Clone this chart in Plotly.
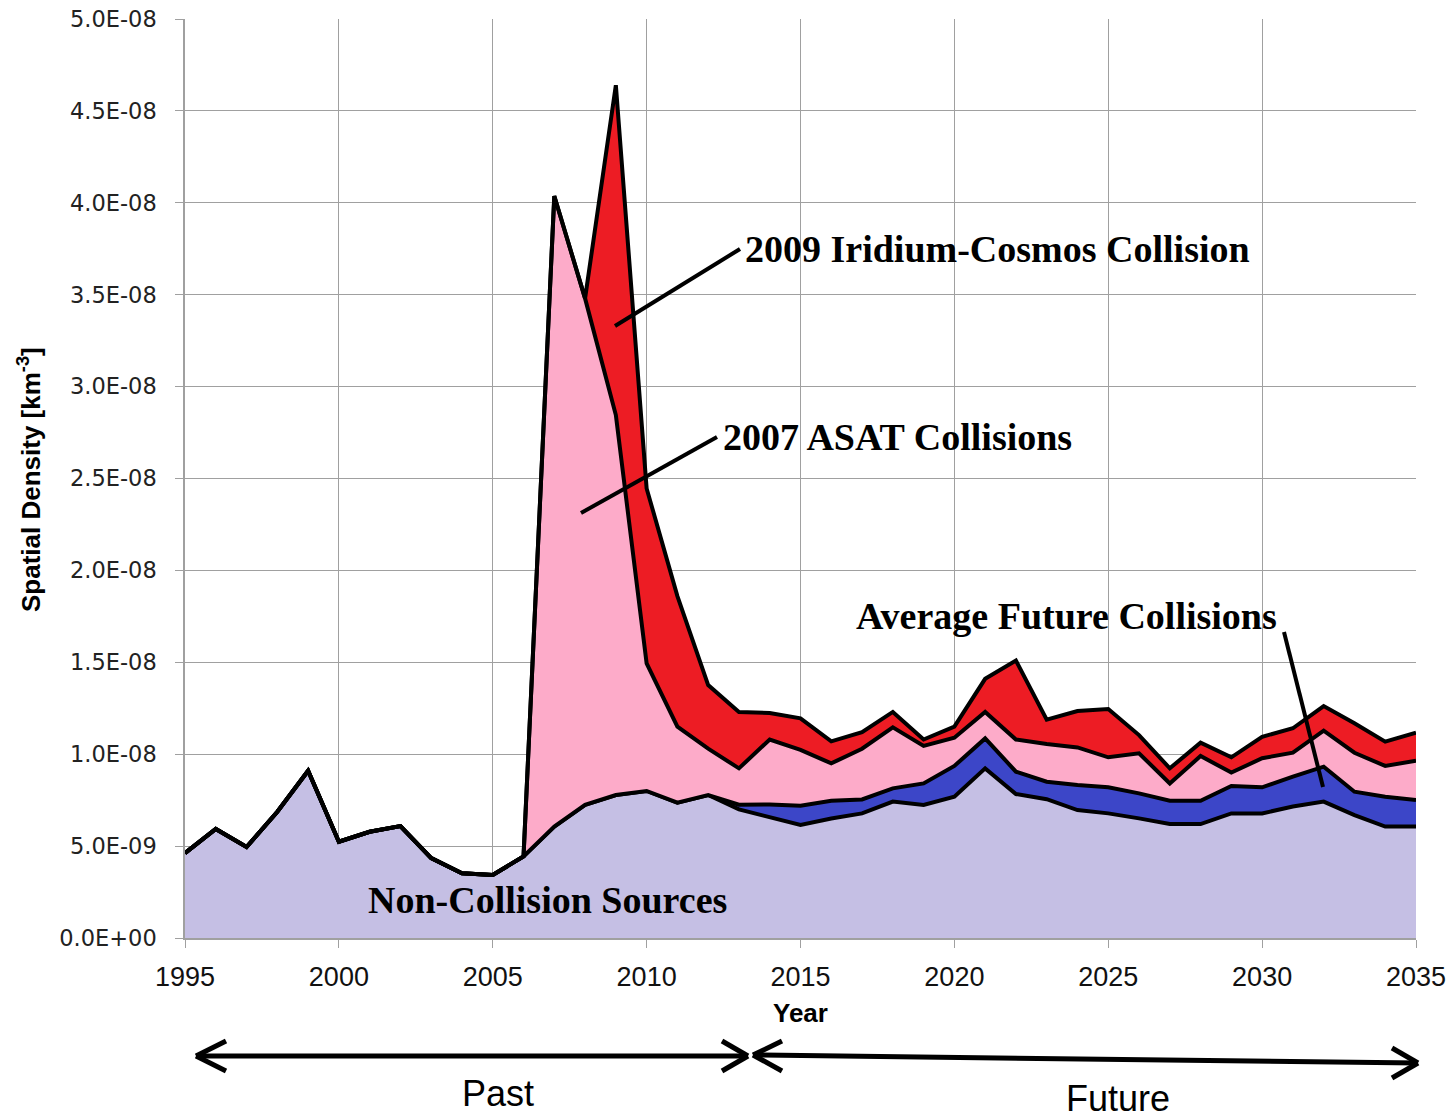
import plotly.graph_objects as go

# ---------------- data (spatial density, units of 1e-9 km^-3) ----------------
years = list(range(1995, 2036))

non_collision = [4.62, 5.93, 4.95, 6.87, 9.10, 5.24, 5.78, 6.09, 4.35, 3.52,
                 3.43, 4.44, 6.06, 7.24, 7.78, 8.00, 7.36, 7.78, 7.00, 6.60,
                 6.15, 6.50, 6.78, 7.42, 7.24, 7.69, 9.23, 7.83, 7.55, 6.96,
                 6.78, 6.51, 6.20, 6.20, 6.78, 6.78, 7.15, 7.42, 6.69, 6.06,
                 6.06]

future_collisions = [0, 0, 0, 0, 0, 0, 0, 0, 0, 0,
                     0, 0, 0, 0, 0, 0, 0, 0, 0.25, 0.67,
                     1.05, 0.97, 0.76, 0.72, 1.17, 1.67, 1.63, 1.22, 0.95, 1.36,
                     1.42, 1.36, 1.27, 1.27, 1.49, 1.42, 1.63, 1.90, 1.27, 1.63,
                     1.45]

asat_2007 = [0, 0, 0, 0, 0, 0, 0, 0, 0, 0,
             0, 0, 34.31, 27.56, 20.67, 6.94, 4.14, 2.52, 1.98, 3.53,
             3.03, 2.03, 2.76, 3.32, 2.04, 1.54, 1.44, 1.75, 2.05, 2.05,
             1.63, 2.18, 0.94, 2.43, 0.73, 1.58, 1.30, 1.96, 2.12, 1.67,
             2.14]

iridium_2009 = [0, 0, 0, 0, 0, 0, 0, 0, 0, 0,
                0, 0, 0, 0, 17.95, 9.52, 7.10, 3.46, 3.07, 1.44,
                1.72, 1.20, 0.90, 0.84, 0.35, 0.60, 1.80, 4.30, 1.33, 1.98,
                2.63, 0.99, 0.82, 0.73, 0.83, 1.17, 1.33, 1.34, 1.60, 1.32,
                1.52]

y_tick_vals = [0, 5e-9, 1e-8, 1.5e-8, 2e-8, 2.5e-8, 3e-8, 3.5e-8, 4e-8, 4.5e-8, 5e-8]
y_tick_text = ["0.0E+00", "5.0E-09", "1.0E-08", "1.5E-08", "2.0E-08", "2.5E-08",
               "3.0E-08", "3.5E-08", "4.0E-08", "4.5E-08", "5.0E-08"]
x_tick_vals = [1995, 2000, 2005, 2010, 2015, 2020, 2025, 2030, 2035]

SCALE = 1e-9

series = [
    ("Non-Collision Sources", non_collision, "#c5bfe4"),
    ("Average Future Collisions", future_collisions, "#3c46c8"),
    ("2007 ASAT Collisions", asat_2007, "#fdabc9"),
    ("2009 Iridium-Cosmos Collision", iridium_2009, "#ed1c24"),
]

fig = go.Figure()
for name, vals, col in series:
    fig.add_trace(go.Scatter(
        x=years, y=[v * SCALE for v in vals], name=name,
        stackgroup="one", mode="lines",
        line=dict(color="black", width=4),
        fillcolor=col, hoverinfo="x+y+name",
    ))

# ---------------- layout geometry ----------------
W_FIG, H_FIG = 1451, 1114
L, R, T, B = 185, 1416, 19, 938
PW, PH = R - L, B - T


def P(px, py):
    return (px - L) / PW, (B - py) / PH


def X(px):
    return 1995 + (px - L) / PW * 40


def Y(py):
    return (B - py) / PH * 5e-8


GRID = "#a0a0a0"
serif = "Liberation Serif, Times New Roman, serif"
sans = "Liberation Sans, Arial, sans-serif"
narrow = "Liberation Sans Narrow, Arial Narrow, Liberation Sans, Arial, sans-serif"

fig.update_layout(
    width=W_FIG, height=H_FIG,
    margin=dict(l=L, r=W_FIG - R, t=T, b=H_FIG - B, autoexpand=False),
    paper_bgcolor="white", plot_bgcolor="white",
    showlegend=False,
    xaxis=dict(range=[1995, 2035], tickvals=x_tick_vals, automargin=False,
               showgrid=True, gridcolor=GRID, gridwidth=1.3,
               showline=True, linecolor=GRID, linewidth=1.5,
               ticks="outside", ticklen=8, tickcolor=GRID,
               ticklabelstandoff=6,
               zeroline=False,
               tickfont=dict(family=narrow, size=27, color="#111")),
    yaxis=dict(range=[0, 5e-8], tickvals=y_tick_vals, ticktext=y_tick_text, automargin=False,
               showgrid=True, gridcolor=GRID, gridwidth=1.3,
               showline=True, linecolor=GRID, linewidth=1.5,
               ticks="outside", ticklen=8, tickcolor=GRID,
               ticklabelstandoff=14,
               zeroline=False,
               tickfont=dict(family="DejaVu Sans, Verdana, sans-serif", size=22.5, color="#222")),
)

ann = []
# axis titles
xt, yt = P(30, 480)
ann.append(dict(x=xt, y=yt, xref="paper", yref="paper", textangle=-90,
                xanchor="center", yanchor="middle",
                text="<b>Spatial Density [km<sup>-3</sup>]</b>", showarrow=False,
                font=dict(family=narrow, size=26, color="black")))
xt, yt = P(800, 1013)
ann.append(dict(x=xt, y=yt, xref="paper", yref="paper",
                xanchor="center", yanchor="middle",
                text="<b>Year</b>", showarrow=False,
                font=dict(family=narrow, size=26, color="black")))

# series labels
labels = [
    ("2009 Iridium-Cosmos Collision", 743, 249),
    ("2007 ASAT Collisions", 721, 437),
    ("Average Future Collisions", 854, 616),
    ("Non-Collision Sources", 366, 900),
]
for txt, px, py in labels:
    ann.append(dict(x=X(px), y=Y(py), xref="x", yref="y", xanchor="left", yanchor="middle",
                    text="<b>" + txt + "</b>", showarrow=False,
                    font=dict(family=serif, size=38, color="black")))

# Past / Future labels
for txt, px, py in [("Past", 498, 1093), ("Future", 1118, 1098)]:
    xt, yt = P(px, py)
    ann.append(dict(x=xt, y=yt, xref="paper", yref="paper", xanchor="center", yanchor="middle",
                    text=txt, showarrow=False,
                    font=dict(family=sans, size=36, color="black")))
fig.update_layout(annotations=ann)

shapes = []
# leader lines (data coordinates)
for (x0, y0, x1, y1) in [(740, 249, 615, 326), (717, 437, 581, 513), (1284, 632, 1323, 787)]:
    shapes.append(dict(type="line", xref="x", yref="y",
                       x0=X(x0), y0=Y(y0), x1=X(x1), y1=Y(y1),
                       line=dict(color="black", width=4)))


def seg(a, b, w=5):
    ax, ay = P(*a)
    bx, by = P(*b)
    shapes.append(dict(type="line", xref="paper", yref="paper",
                       x0=ax, y0=ay, x1=bx, y1=by,
                       line=dict(color="black", width=w)))


# Past arrow
seg((196, 1056), (748, 1056))
seg((196, 1056), (226, 1041)); seg((196, 1056), (226, 1071))
seg((748, 1056), (722, 1041)); seg((748, 1056), (722, 1071))
# Future arrow
seg((753, 1055), (1418, 1063))
seg((753, 1055), (782, 1041)); seg((753, 1055), (782, 1071))
seg((1418, 1063), (1392, 1048)); seg((1418, 1063), (1392, 1078))

fig.update_layout(shapes=shapes)

fig.write_html("out.html", config={"displayModeBar": False},
               post_script="document.body.style.margin='0';document.body.style.overflow='hidden';")
